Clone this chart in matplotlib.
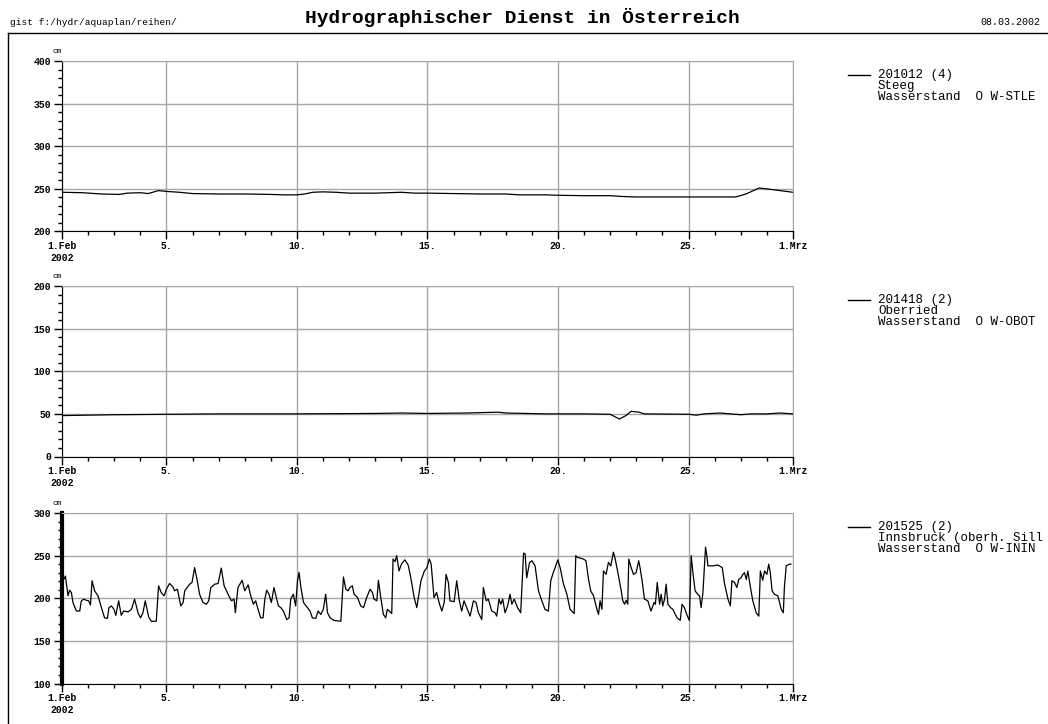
import matplotlib.pyplot as plt
import numpy as np
from matplotlib.lines import Line2D

# day offsets from 1.Feb 2002
steeg_day = [0, 0.8, 1.5, 2.2, 2.5, 3.0, 3.3, 3.7, 4.0, 4.5, 5, 6, 7, 8, 8.5, 9, 9.3, 9.6, 10,
             10.5, 11, 12, 12.5, 13, 13.5, 14, 15, 16, 17, 17.5, 18.5, 19, 20, 21, 21.5, 22,
             24, 25.8, 26.2, 26.7, 27, 27.5, 28]
steeg_cm = [246, 245.5, 244, 243.5, 245, 245.5, 244.5, 248, 247, 246, 244.5, 244, 244, 243.5, 243,
            243, 244, 246, 246.5, 246, 245, 245, 245.5, 246, 245, 245, 244.5, 244, 244, 243, 243,
            242.5, 242, 242, 241, 240.5, 240.5, 240.5, 244, 251, 250, 248, 246]

oberried_day = [0, 1, 2, 4, 6, 9, 12, 13, 14, 15.5, 16.7, 17, 18.5, 20, 21, 21.35, 21.6, 21.8,
                22.1, 22.3, 24, 24.3, 24.6, 25.2, 25.6, 26, 26.4, 27, 27.5, 28]
oberried_cm = [48, 48.5, 49, 49.5, 50, 50, 50.5, 51, 50.5, 51, 52, 51, 50, 50, 49.5, 44, 48, 53,
               52, 50, 49.5, 48.5, 50, 51, 50, 49, 50, 50, 51, 50]

inn_day = [0, 0.04, 0.13, 0.23, 0.29, 0.36, 0.42, 0.55, 0.68, 0.74, 0.84, 0.93, 1.02, 1.09, 1.15,
           1.25, 1.38, 1.51, 1.63, 1.74, 1.80, 1.89, 1.99, 2.06, 2.17, 2.27, 2.36, 2.53, 2.66,
           2.78, 2.91, 3.01, 3.10, 3.19, 3.32, 3.42, 3.61, 3.70, 3.80, 3.91, 4.00, 4.12, 4.25,
           4.31, 4.42, 4.55, 4.64, 4.70, 4.89, 4.98, 5.08, 5.18, 5.27, 5.40, 5.53, 5.62, 5.70,
           5.85, 5.98, 6.10, 6.21, 6.36, 6.49, 6.59, 6.64, 6.74, 6.90, 7.00, 7.13, 7.23, 7.33,
           7.42, 7.51, 7.61, 7.70, 7.77, 7.84, 7.93, 8.02, 8.12, 8.21, 8.29, 8.38, 8.48, 8.61,
           8.70, 8.76, 8.86, 8.95, 9.02, 9.08, 9.15, 9.25, 9.40, 9.50, 9.59, 9.72, 9.81, 9.91,
           10.01, 10.10, 10.17, 10.27, 10.42, 10.68, 10.78, 10.87, 10.96, 11.03, 11.12, 11.19,
           11.32, 11.44, 11.55, 11.67, 11.80, 11.89, 11.95, 12.06, 12.12, 12.21, 12.31, 12.40,
           12.46, 12.57, 12.63, 12.68, 12.76, 12.82, 12.91, 13.00, 13.13, 13.26, 13.36, 13.49,
           13.59, 13.65, 13.75, 13.88, 13.98, 14.07, 14.14, 14.25, 14.35, 14.46, 14.55, 14.64,
           14.71, 14.80, 14.86, 15.02, 15.12, 15.22, 15.31, 15.40, 15.50, 15.63, 15.76, 15.86,
           15.95, 16.08, 16.14, 16.25, 16.33, 16.46, 16.59, 16.65, 16.74, 16.81, 16.88, 16.97,
           17.07, 17.16, 17.23, 17.32, 17.45, 17.57, 17.68, 17.74, 17.80, 17.91, 18.00, 18.12,
           18.25, 18.38, 18.50, 18.63, 18.72, 18.82, 18.89, 18.99, 19.08, 19.21, 19.34, 19.46,
           19.62, 19.68, 19.74, 19.85, 19.97, 20.07, 20.16, 20.25, 20.36, 20.49, 20.55, 20.61,
           20.68, 20.74, 20.84, 20.93, 21.02, 21.12, 21.19, 21.28, 21.42, 21.48, 21.55, 21.61,
           21.67, 21.71, 21.80, 21.89, 21.99, 22.09, 22.14, 22.22, 22.31, 22.44, 22.56, 22.68,
           22.73, 22.80, 22.89, 22.95, 23.01, 23.08, 23.14, 23.21, 23.31, 23.40, 23.46, 23.56,
           23.68, 23.75, 23.84, 23.93, 24.03, 24.10, 24.16, 24.25, 24.35, 24.42, 24.48, 24.55,
           24.61, 24.65, 24.70, 24.74, 24.93, 25.12, 25.29, 25.38, 25.51, 25.60, 25.66, 25.76,
           25.85, 25.92, 26.01, 26.08, 26.14, 26.21, 26.27, 26.36, 26.46, 26.59, 26.69, 26.75,
           26.84, 26.91, 27.00, 27.07, 27.13, 27.20, 27.29, 27.42, 27.55, 27.63, 27.67, 27.74,
           27.86, 27.92]
inn_cm = [217, 220.5, 226, 203, 209.5, 206.7, 195, 185, 185, 197, 199, 197.6, 197, 192, 220.5,
          208.7, 202.8, 189, 177, 176.4, 189, 191, 187, 180, 197, 180, 185, 184, 187, 199, 183,
          177, 183, 197, 178, 173, 173, 214.6, 206.7, 202.8, 210.6, 217.3, 213.4, 208.7, 210.6,
          191, 195, 208.7, 216.5, 218.5, 236, 220.5, 204.7, 195, 193, 197, 212.6, 216.5, 217.3,
          235.4, 214.6, 204.7, 197, 199, 183, 212.6, 221, 208.7, 215.7, 202.8, 193, 197, 187,
          177, 177, 199, 209.5, 204.7, 195, 212.6, 200.8, 191, 189, 185, 175, 177, 199, 204.7,
          191, 220.5, 230.3, 212.6, 195, 189, 185, 177, 176.4, 185, 181, 187, 204.7, 183, 177,
          174, 173, 225, 210.6, 208.7, 212.6, 214.6, 204.7, 200.8, 191, 189, 200.8, 210.6,
          206.7, 199, 197, 221, 200.8, 181, 177, 187, 184, 182, 246, 243, 250, 232, 240, 245,
          239, 224, 200.8, 189, 200.8, 220.5, 232, 236, 246, 240, 200.8, 206.7, 193, 185, 195,
          228, 218.5, 197, 196, 220.5, 197, 185, 197, 189, 179, 197, 195, 183, 175, 212.6, 197,
          199, 185, 183, 179, 199, 193, 199, 183, 191, 204.7, 193, 199, 189, 183, 253, 252, 224,
          242, 244, 238, 208.7, 197, 187, 185, 220.5, 230.3, 236, 245, 236, 216.5, 204.7, 187,
          182, 250, 248, 247, 246, 244, 224, 208.7, 202.8, 187, 181, 197, 187, 232, 228, 242,
          238, 254, 246, 232, 208.7, 197, 193, 197.6, 193, 246, 236, 228, 230, 244, 236, 220.5,
          199, 197, 185, 195, 193, 218.5, 193, 204.7, 191, 199, 216.5, 193, 189, 187, 183, 177,
          174, 193, 189, 181, 174, 250, 232, 208.7, 204.7, 202.8, 189, 206.7, 240, 260, 250, 238,
          238, 239, 236, 216.5, 199, 191, 220.5, 218.5, 212.6, 222, 224, 228, 230, 222, 232,
          214.6, 197, 183, 179, 232, 221, 232, 228, 240, 230, 208.7, 204.7, 202.8, 187, 183,
          212.6, 238, 240, 240]

xtick_pos = [0, 4, 9, 14, 19, 24, 28]
xtick_lbl = ["1.Feb\n2002", "5.", "10.", "15.", "20.", "25.", "1.Mrz"]

panels = [
    (steeg_day, steeg_cm, (200, 400), ["201012 (4)", "Steeg", "Wasserstand  O W-STLE"]),
    (oberried_day, oberried_cm, (0, 200), ["201418 (2)", "Oberried", "Wasserstand  O W-OBOT"]),
    (inn_day, inn_cm, (100, 300), ["201525 (2)", "Innsbruck (oberh. Sill", "Wasserstand  O W-ININ"]),
]

mono = "Liberation Mono"
fig = plt.figure(figsize=(10.48, 7.24), dpi=100)
fig.patch.set_facecolor("white")

# header
fig.text(0.498, 0.976, "Hydrographischer Dienst in Österreich", ha="center", va="center",
         fontsize=14, fontweight="bold", family=mono)
fig.text(0.010, 0.969, "gist f:/hydr/aquaplan/reihen/", ha="left", va="center", fontsize=6.8,
         family=mono)
fig.text(0.993, 0.969, "08.03.2002", ha="right", va="center", fontsize=7.2, family=mono)
# outer frame
fig.add_artist(Line2D([0.0076, 0.0076], [0, 0.9545], color="black", lw=1))
fig.add_artist(Line2D([0.0076, 1.0], [0.9545, 0.9545], color="black", lw=1))

tops = [61, 286, 513]
for i, (xd, yd, ylim, leg) in enumerate(panels):
    top = tops[i]
    ax = fig.add_axes([62 / 1048, 1 - (top + 170.5) / 724, 731 / 1048, 170.5 / 724])
    ax.plot(xd, yd, color="black", lw=0.9)
    ax.set_xlim(0, 28)
    ax.set_ylim(*ylim)
    yt = np.arange(ylim[0], ylim[1] + 1, 50)
    ax.set_yticks(yt)
    ax.set_yticks(np.arange(ylim[0], ylim[1] + 1, 10), minor=True)
    ax.set_xticks(xtick_pos)
    ax.set_xticks(np.arange(0, 29, 1), minor=True)
    ax.set_xticklabels(xtick_lbl, family=mono, fontsize=7, fontweight="bold")
    ax.set_yticklabels([str(v) for v in yt], family=mono, fontsize=7, fontweight="bold")
    ax.tick_params(axis="both", which="major", direction="out", length=6, width=1, pad=2)
    ax.tick_params(axis="x", which="major", pad=1)
    ax.tick_params(axis="both", which="minor", direction="out", length=3, width=1)
    ax.grid(True, which="major", color="#a8a8a8", lw=1)
    for s in ["top", "right"]:
        ax.spines[s].set_color("#a8a8a8")
    ax.spines["left"].set_color("black")
    ax.spines["bottom"].set_color("black")
    if i == 2:
        ax.spines["left"].set_linewidth(3)
    ax.text(-0.007, 1.035, "cm", transform=ax.transAxes, ha="center", va="bottom",
            fontsize=5.5, family=mono)
    # legend block
    y0 = 1 - (top + 14) / 724
    fig.add_artist(Line2D([848 / 1048, 870 / 1048], [y0, y0], color="black", lw=1))
    for k, t in enumerate(leg):
        fig.text(878 / 1048, y0 - k * 11 / 724, t, ha="left", va="center", fontsize=9,
                 family=mono)

fig.savefig("out.png", dpi=100)
